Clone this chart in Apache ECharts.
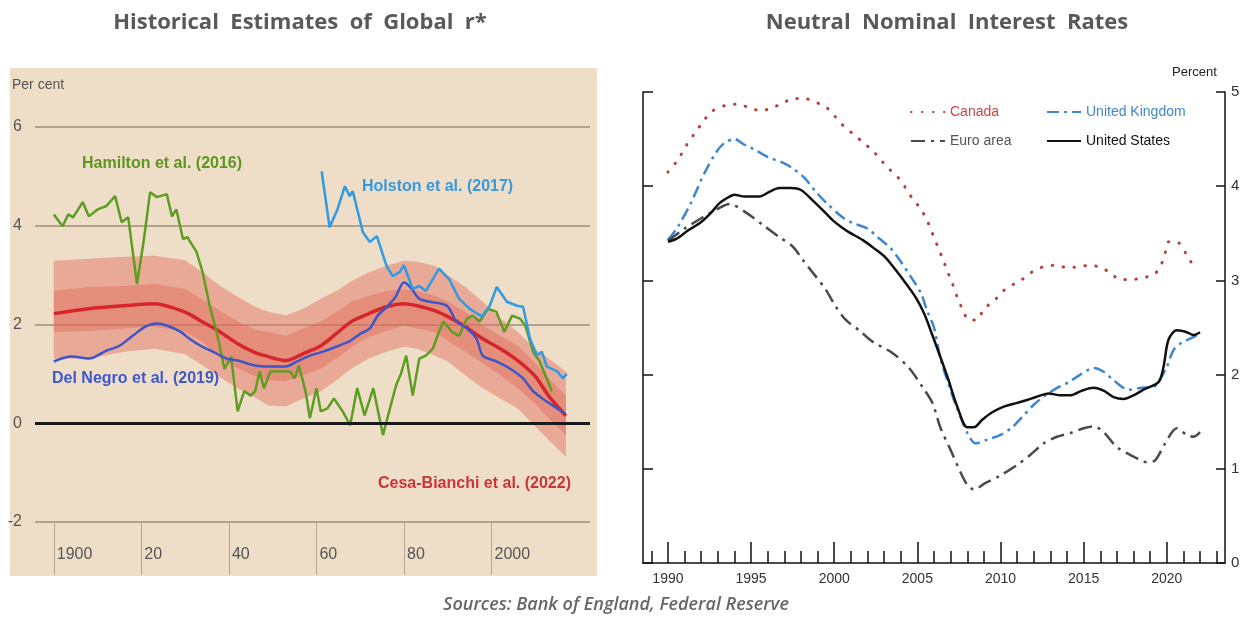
<!DOCTYPE html>
<html>
<head>
<meta charset="utf-8">
<title>Global r* and neutral nominal rates</title>
<script src="https://cdn.jsdelivr.net/npm/echarts@6.0.0/dist/echarts.min.js"></script>
<style>
  html, body { margin: 0; padding: 0; background: #fff; }
  #chart { width: 1247px; height: 622px; }
</style>
</head>
<body>
<div id="chart"></div>
<script>
// ---------- left panel: historical estimates of global r* (per cent)
var hamiltonYears = [1900, 1902, 1903.3, 1904.4, 1906.6, 1908, 1910, 1912, 1914, 1915.5, 1917, 1919, 1920.5, 1922, 1923.5, 1925.8, 1927, 1928, 1929.5, 1930.5, 1932.6, 1934, 1935.6, 1937.2, 1939, 1940.5, 1942, 1943.5, 1945, 1946, 1947, 1948, 1949.5, 1951, 1954, 1955, 1956, 1957.5, 1958.5, 1960, 1961, 1962.5, 1964, 1966, 1967.7, 1969.3, 1971, 1973, 1975.2, 1976.8, 1978.2, 1979.3, 1980.5, 1982, 1983.5, 1985, 1986.6, 1988, 1989, 1991, 1992.6, 1994.4, 1995.7, 1997.3, 1999.2, 2001.1, 2002.9, 2004.7, 2006.5, 2007.7, 2009.5, 2011, 2012.6, 2013.8];
var hamiltonVals = [4.23, 3.99, 4.23, 4.17, 4.48, 4.19, 4.33, 4.4, 4.6, 4.07, 4.17, 2.82, 3.67, 4.68, 4.58, 4.64, 4.19, 4.33, 3.73, 3.77, 3.47, 3.06, 2.38, 1.85, 1.1, 1.35, 0.24, 0.65, 0.56, 0.65, 1.05, 0.71, 1.05, 1.05, 1.05, 0.91, 1.17, 0.65, 0.1, 0.71, 0.24, 0.3, 0.5, 0.24, -0.04, 0.71, 0.16, 0.71, -0.24, 0.3, 0.77, 1.0, 1.37, 0.56, 1.31, 1.37, 1.51, 1.85, 2.06, 1.85, 1.77, 2.12, 2.18, 2.06, 2.32, 2.26, 1.85, 2.18, 2.12, 1.98, 1.45, 1.25, 0.91, 0.65];

var holstonYears = [1961.2, 1963, 1964.8, 1966.5, 1967.6, 1968.3, 1970.6, 1972.2, 1973.8, 1976, 1977.4, 1979, 1980, 1982, 1983.5, 1985, 1988, 1990.3, 1992.6, 1995, 1997.8, 1999.6, 2001.2, 2003.5, 2005.8, 2007.2, 2008.8, 2010.4, 2011.5, 2012.6, 2015, 2016.3, 2017.2];
var holstonVals = [5.1, 3.97, 4.33, 4.8, 4.6, 4.7, 3.87, 3.67, 3.79, 3.19, 2.98, 3.06, 3.2, 2.72, 2.78, 2.68, 3.13, 2.92, 2.52, 2.32, 2.16, 2.38, 2.76, 2.46, 2.38, 2.36, 1.71, 1.37, 1.45, 1.15, 1.05, 0.91, 1.0];

var delNegroYears = [1900, 1904, 1908, 1912, 1915, 1918, 1921, 1923.5, 1925.8, 1929, 1931, 1933.5, 1936.3, 1939.5, 1942, 1946, 1949.4, 1953, 1955.5, 1958.5, 1961.5, 1964.5, 1967.7, 1970, 1972.2, 1974, 1976, 1978, 1980, 1981.5, 1983.5, 1986, 1989.8, 1992, 1994.4, 1996.6, 1998, 2001.2, 2004.2, 2007.2, 2009.5, 2012.6, 2015, 2016.8];
var delNegroVals = [1.25, 1.35, 1.31, 1.47, 1.57, 1.77, 1.96, 2.02, 1.98, 1.85, 1.71, 1.57, 1.45, 1.31, 1.27, 1.17, 1.15, 1.15, 1.25, 1.37, 1.45, 1.55, 1.67, 1.81, 1.92, 2.18, 2.35, 2.55, 2.85, 2.75, 2.52, 2.46, 2.38, 2.06, 1.92, 1.71, 1.37, 1.25, 1.11, 0.91, 0.65, 0.44, 0.3, 0.2];

var cbYears = [1900, 1908, 1916, 1923, 1930, 1934, 1938, 1942, 1946, 1949, 1953, 1957, 1961, 1965, 1968, 1972, 1976, 1980, 1983, 1987, 1990, 1994, 1998, 2002, 2006, 2010, 2013, 2017];
var cbCentral = [2.22, 2.32, 2.38, 2.42, 2.25, 2.05, 1.85, 1.61, 1.43, 1.35, 1.27, 1.41, 1.57, 1.85, 2.06, 2.22, 2.36, 2.42, 2.38, 2.28, 2.16, 1.96, 1.71, 1.51, 1.27, 0.95, 0.56, 0.15];
var cbOuterHigh = [3.29, 3.33, 3.37, 3.39, 3.3, 3.06, 2.78, 2.56, 2.36, 2.26, 2.18, 2.32, 2.52, 2.7, 2.88, 3.06, 3.19, 3.29, 3.27, 3.19, 3.0, 2.76, 2.46, 2.12, 1.85, 1.5, 1.31, 1.05];
var cbInnerHigh = [2.68, 2.76, 2.78, 2.82, 2.72, 2.5, 2.28, 2.06, 1.9, 1.85, 1.77, 1.92, 2.06, 2.28, 2.46, 2.58, 2.68, 2.72, 2.68, 2.58, 2.46, 2.26, 1.98, 1.77, 1.57, 1.22, 0.91, 0.56];
var cbInnerLow = [1.85, 1.87, 1.92, 1.96, 1.85, 1.65, 1.31, 1.11, 0.95, 0.87, 0.85, 0.97, 1.11, 1.33, 1.55, 1.75, 1.87, 1.98, 1.92, 1.85, 1.67, 1.45, 1.21, 0.97, 0.71, 0.4, 0.1, -0.24];
var cbOuterLow = [1.31, 1.31, 1.45, 1.51, 1.4, 1.17, 0.93, 0.71, 0.52, 0.36, 0.34, 0.5, 0.65, 0.9, 1.11, 1.31, 1.45, 1.55, 1.51, 1.37, 1.25, 0.97, 0.71, 0.5, 0.3, -0.06, -0.34, -0.68];

var leftXTicks = [1900, 1920, 1940, 1960, 1980, 2000];

// ---------- right panel: neutral nominal interest rates (percent)
var canadaYears = [1990, 1990.6, 1991.1, 1991.6, 1992.1, 1992.6, 1993.5, 1994.2, 1994.8, 1995.6, 1996.2, 1996.9, 1997.5, 1998.2, 1998.9, 1999.5, 2000, 2000.5, 2001.1, 2001.7, 2002.3, 2002.7, 2003.2, 2003.8, 2004.3, 2004.7, 2005.2, 2005.6, 2005.9, 2006.2, 2006.5, 2006.8, 2007.1, 2007.4, 2007.7, 2008.1, 2008.6, 2009, 2009.6, 2010.1, 2010.7, 2011.3, 2011.9, 2012.5, 2013.2, 2013.9, 2014.6, 2015.3, 2016, 2016.6, 2017.2, 2017.9, 2018.6, 2019.2, 2019.6, 2019.9, 2020.1, 2020.7, 2021.2, 2021.6];
var canadaVals = [4.15, 4.28, 4.43, 4.56, 4.68, 4.79, 4.86, 4.87, 4.84, 4.8, 4.83, 4.88, 4.93, 4.93, 4.89, 4.84, 4.75, 4.65, 4.56, 4.47, 4.38, 4.3, 4.2, 4.1, 3.98, 3.87, 3.76, 3.63, 3.5, 3.37, 3.24, 3.1, 2.97, 2.82, 2.7, 2.58, 2.58, 2.7, 2.78, 2.88, 2.95, 3.01, 3.09, 3.14, 3.16, 3.14, 3.14, 3.16, 3.14, 3.08, 3.01, 3.01, 3.03, 3.06, 3.14, 3.29, 3.41, 3.4, 3.27, 3.15];

var ukYears = [1990, 1990.6, 1991.4, 1992.2, 1992.9, 1993.4, 1994, 1994.6, 1995.2, 1996, 1996.9, 1997.5, 1998.2, 1998.9, 1999.6, 2000.5, 2001.1, 2002, 2002.6, 2003.4, 2004, 2004.6, 2005.2, 2005.6, 2006, 2006.4, 2006.8, 2007.2, 2007.6, 2008, 2008.5, 2009.2, 2010, 2010.7, 2011.3, 2012, 2012.7, 2013.4, 2014.1, 2014.8, 2015.6, 2016.2, 2016.8, 2017.7, 2018.5, 2019.2, 2019.5, 2020, 2020.4, 2020.9, 2021.5, 2022];
var ukVals = [3.43, 3.57, 3.83, 4.14, 4.36, 4.46, 4.5, 4.44, 4.39, 4.31, 4.25, 4.19, 4.09, 3.94, 3.81, 3.67, 3.61, 3.55, 3.46, 3.34, 3.2, 3.04, 2.87, 2.67, 2.5, 2.16, 1.94, 1.73, 1.55, 1.38, 1.27, 1.31, 1.36, 1.44, 1.55, 1.68, 1.78, 1.86, 1.92, 2.0, 2.07, 2.03, 1.94, 1.84, 1.86, 1.87, 1.92, 2.08, 2.26, 2.34, 2.39, 2.44];

var euroYears = [1990, 1991, 1992, 1993, 1993.7, 1994.7, 1995.7, 1996.7, 1997.5, 1998.1, 1998.9, 1999.5, 2000.1, 2000.7, 2001.5, 2002.3, 2003.5, 2004.5, 2005.3, 2005.9, 2006.4, 2007, 2007.6, 2008, 2008.4, 2009.1, 2010, 2011, 2011.8, 2012.6, 2013.4, 2014.2, 2015, 2015.6, 2016.2, 2017, 2018, 2018.8, 2019.3, 2019.9, 2020.6, 2021.2, 2021.6, 2022];
var euroVals = [3.42, 3.55, 3.66, 3.76, 3.81, 3.72, 3.59, 3.46, 3.36, 3.22, 3.04, 2.9, 2.72, 2.58, 2.47, 2.35, 2.23, 2.07, 1.87, 1.7, 1.43, 1.2, 0.96, 0.83, 0.78, 0.85, 0.93, 1.04, 1.15, 1.27, 1.34, 1.38, 1.43, 1.45, 1.39, 1.23, 1.13, 1.07, 1.09, 1.27, 1.43, 1.36, 1.34, 1.39];

var usYears = [1990, 1990.5, 1991.2, 1992, 1992.6, 1993.1, 1993.7, 1994, 1994.6, 1995.5, 1996.1, 1996.7, 1997.4, 1998, 1998.7, 1999.4, 1999.9, 2000.4, 2000.9, 2001.7, 2002.4, 2003.1, 2003.7, 2004.3, 2004.9, 2005.4, 2005.9, 2006.8, 2007.4, 2008, 2008.4, 2008.9, 2009.5, 2010.2, 2011, 2011.6, 2012.1, 2012.9, 2013.6, 2014.2, 2014.9, 2015.6, 2016.2, 2016.8, 2017.4, 2018, 2018.6, 2019.5, 2019.8, 2020.1, 2020.6, 2021.2, 2021.6, 2022];
var usVals = [3.41, 3.44, 3.53, 3.62, 3.72, 3.82, 3.89, 3.91, 3.89, 3.89, 3.94, 3.98, 3.98, 3.96, 3.85, 3.73, 3.64, 3.57, 3.51, 3.43, 3.34, 3.24, 3.11, 2.97, 2.82, 2.65, 2.42, 1.98, 1.66, 1.44, 1.44, 1.52, 1.6, 1.66, 1.7, 1.73, 1.76, 1.8, 1.78, 1.78, 1.83, 1.86, 1.83, 1.76, 1.74, 1.78, 1.84, 1.92, 2.08, 2.37, 2.47, 2.45, 2.42, 2.45];

var rightYearTicks = [1989, 1990, 1991, 1992, 1993, 1994, 1995, 1996, 1997, 1998, 1999, 2000, 2001, 2002, 2003, 2004, 2005, 2006, 2007, 2008, 2009, 2010, 2011, 2012, 2013, 2014, 2015, 2016, 2017, 2018, 2019, 2020, 2021, 2022, 2023];
var rightYearLabels = [1990, 1995, 2000, 2005, 2010, 2015, 2020];

function pairs(xs, ys) {
  return xs.map(function (x, i) { return [x, ys[i]]; });
}

var sans = '"Liberation Sans", Arial, sans-serif';
var bandFill = 'rgba(224,106,90,0.45)';

// fan chart around the Cesa-Bianchi estimate: outer band, then inner band on top
function renderBands(params, api) {
  function poly(hi, lo) {
    var pts = [];
    cbYears.forEach(function (x, i) { pts.push(api.coord([x, hi[i]])); });
    for (var i = cbYears.length - 1; i >= 0; i--) {
      pts.push(api.coord([cbYears[i], lo[i]]));
    }
    return { type: 'polygon', shape: { points: pts }, style: { fill: bandFill } };
  }
  return {
    type: 'group',
    children: [poly(cbOuterHigh, cbOuterLow), poly(cbInnerHigh, cbInnerLow)]
  };
}

var chart = echarts.init(document.getElementById('chart'));
chart.setOption({
  animation: false,
  backgroundColor: '#ffffff',
  title: [{
    text: 'Historical  Estimates  of  Global  r*',
    left: 295, top: 7, textAlign: 'center',
    textStyle: { fontFamily: '"Open Sans", sans-serif', fontWeight: 'bold', fontSize: 22, color: '#595959' }
  }, {
    text: 'Neutral  Nominal  Interest  Rates',
    left: 942, top: 7, textAlign: 'center',
    textStyle: { fontFamily: '"Open Sans", sans-serif', fontWeight: 'bold', fontSize: 22, color: '#595959' }
  }],
  legend: [{
    orient: 'vertical', left: 905, top: 100, itemGap: 15,
    itemWidth: 34, itemHeight: 12,
    itemStyle: { opacity: 0 },
    textStyle: { fontFamily: sans, fontSize: 14 },
    data: [
      { name: 'Canada', textStyle: { color: '#cc4444' } },
      { name: 'Euro area', textStyle: { color: '#555555' } }
    ]
  }, {
    orient: 'vertical', left: 1041, top: 100, itemGap: 15,
    itemWidth: 34, itemHeight: 12,
    itemStyle: { opacity: 0 },
    textStyle: { fontFamily: sans, fontSize: 14 },
    data: [
      { name: 'United Kingdom', textStyle: { color: '#3f86d0' } },
      { name: 'United States', textStyle: { color: '#111111' } }
    ]
  }],
  grid: [
    { left: 35, right: 657, top: 127, bottom: 100 },
    { left: 643, right: 22, top: 92, bottom: 59 }
  ],
  xAxis: [{
    gridIndex: 0, type: 'value', min: 1895.7, max: 2022.5,
    axisLine: { show: false, onZero: false },
    splitLine: { show: false },
    axisTick: { customValues: leftXTicks, length: 53, lineStyle: { color: '#b3a38f', width: 1 } },
    axisLabel: {
      customValues: leftXTicks, align: 'left', margin: 25, padding: [0, 0, 0, 3],
      fontFamily: sans, fontSize: 16, color: '#555555',
      formatter: function (v) { return (v === 1900 || v === 2000) ? String(v) : String(v).slice(2); }
    }
  }, {
    gridIndex: 1, type: 'value', min: 1988.5, max: 2023.5, position: 'bottom',
    axisLine: { onZero: false, lineStyle: { color: '#111111', width: 1.5 } },
    splitLine: { show: false },
    axisTick: { customValues: rightYearTicks, inside: true, length: 12, lineStyle: { color: '#111111', width: 1.5 } },
    axisLabel: { show: false }
  }, {
    gridIndex: 1, type: 'value', min: 1988.5, max: 2023.5, position: 'bottom',
    axisLine: { show: false, onZero: false },
    splitLine: { show: false },
    axisTick: { customValues: rightYearLabels, inside: true, length: 21, lineStyle: { color: '#111111', width: 1.5 } },
    axisLabel: {
      customValues: rightYearLabels, margin: 9, fontFamily: sans, fontSize: 14, color: '#333333',
      formatter: function (v) { return String(v); }
    }
  }],
  yAxis: [{
    gridIndex: 0, type: 'value', min: -2, max: 6, interval: 2,
    axisLine: { show: false }, axisTick: { show: false },
    axisLabel: { margin: 13, fontFamily: sans, fontSize: 16, color: '#555555' },
    splitLine: { lineStyle: { color: '#9e8d79', width: 1.5 } }
  }, {
    gridIndex: 1, type: 'value', min: 0, max: 5, interval: 1, position: 'left',
    axisLine: { show: true, onZero: false, lineStyle: { color: '#111111', width: 1.5 } },
    axisTick: { show: true, inside: true, length: 10, lineStyle: { color: '#111111', width: 1.5 } },
    axisLabel: { show: false },
    splitLine: { show: false }
  }, {
    gridIndex: 1, type: 'value', min: 0, max: 5, interval: 1, position: 'right',
    axisLine: { show: true, onZero: false, lineStyle: { color: '#111111', width: 1.5 } },
    axisTick: { show: true, inside: true, length: 9, lineStyle: { color: '#111111', width: 1.5 } },
    axisLabel: { margin: 6, fontFamily: sans, fontSize: 15, color: '#333333' },
    splitLine: { show: false }
  }],
  graphic: [
    { type: 'rect', z: -10, shape: { x: 10, y: 68, width: 587, height: 508 }, style: { fill: '#eedec7' } },
    { type: 'text', z: 100, left: 12, top: 78, style: { text: 'Per cent', font: '14px ' + sans, fill: '#555555' } },
    { type: 'text', z: 100, left: 82, top: 156, style: { text: 'Hamilton et al. (2016)', font: 'bold 16px ' + sans, fill: '#5f9422' } },
    { type: 'text', z: 100, left: 362, top: 179, style: { text: 'Holston et al. (2017)', font: 'bold 16px ' + sans, fill: '#3a98dc' } },
    { type: 'text', z: 100, left: 52, top: 371, style: { text: 'Del Negro et al. (2019)', font: 'bold 16px ' + sans, fill: '#4058c8' } },
    { type: 'text', z: 100, left: 378, top: 476, style: { text: 'Cesa-Bianchi et al. (2022)', font: 'bold 16px ' + sans, fill: '#c8363a' } },
    { type: 'text', z: 100, left: 1172, top: 66, style: { text: 'Percent', font: '13px ' + sans, fill: '#222222' } },
    { type: 'text', z: 100, x: 616, y: 596, style: { text: 'Sources: Bank of England, Federal Reserve', font: 'italic 600 18px "Open Sans", sans-serif', fill: '#666666', align: 'center' } }
  ],
  series: [
    {
      name: 'Cesa-Bianchi bands', type: 'custom', xAxisIndex: 0, yAxisIndex: 0,
      silent: true, z: 1,
      data: [[cbYears[0], cbCentral[0]]],
      renderItem: renderBands
    },
    {
      name: 'Cesa-Bianchi et al. (2022)', type: 'line', xAxisIndex: 0, yAxisIndex: 0,
      data: pairs(cbYears, cbCentral), symbol: 'none', smooth: 0.3, z: 3,
      lineStyle: { color: '#d7262b', width: 3.5 },
      markLine: {
        silent: true, symbol: 'none', label: { show: false },
        lineStyle: { color: '#1a1a1a', width: 3, type: 'solid' },
        data: [{ yAxis: 0 }]
      }
    },
    {
      name: 'Hamilton et al. (2016)', type: 'line', xAxisIndex: 0, yAxisIndex: 0,
      data: pairs(hamiltonYears, hamiltonVals), symbol: 'none', z: 4,
      lineStyle: { color: '#5f9c22', width: 2.5 }
    },
    {
      name: 'Del Negro et al. (2019)', type: 'line', xAxisIndex: 0, yAxisIndex: 0,
      data: pairs(delNegroYears, delNegroVals), symbol: 'none', smooth: 0.3, z: 5,
      lineStyle: { color: '#3d55c9', width: 2.5 }
    },
    {
      name: 'Holston et al. (2017)', type: 'line', xAxisIndex: 0, yAxisIndex: 0,
      data: pairs(holstonYears, holstonVals), symbol: 'none', z: 6,
      lineStyle: { color: '#2f9be3', width: 2.5 }
    },
    {
      name: 'Canada', type: 'line', xAxisIndex: 1, yAxisIndex: 2,
      data: pairs(canadaYears, canadaVals), symbol: 'none', smooth: 0.3, z: 3,
      itemStyle: { color: '#b8403c' },
      lineStyle: { color: '#b8403c', width: 3, type: [0.5, 10.5], cap: 'round' }
    },
    {
      name: 'United Kingdom', type: 'line', xAxisIndex: 1, yAxisIndex: 2,
      data: pairs(ukYears, ukVals), symbol: 'none', smooth: 0.3, z: 4,
      itemStyle: { color: '#3f86d0' },
      lineStyle: { color: '#3f86d0', width: 2.5, type: [12, 5, 3, 5] }
    },
    {
      name: 'Euro area', type: 'line', xAxisIndex: 1, yAxisIndex: 2,
      data: pairs(euroYears, euroVals), symbol: 'none', smooth: 0.3, z: 5,
      itemStyle: { color: '#4a4a4a' },
      lineStyle: { color: '#4a4a4a', width: 2.5, type: [14, 6, 3, 6] }
    },
    {
      name: 'United States', type: 'line', xAxisIndex: 1, yAxisIndex: 2,
      data: pairs(usYears, usVals), symbol: 'none', smooth: 0.3, z: 6,
      itemStyle: { color: '#111111' },
      lineStyle: { color: '#111111', width: 2.5 }
    }
  ]
});
</script>
</body>
</html>
